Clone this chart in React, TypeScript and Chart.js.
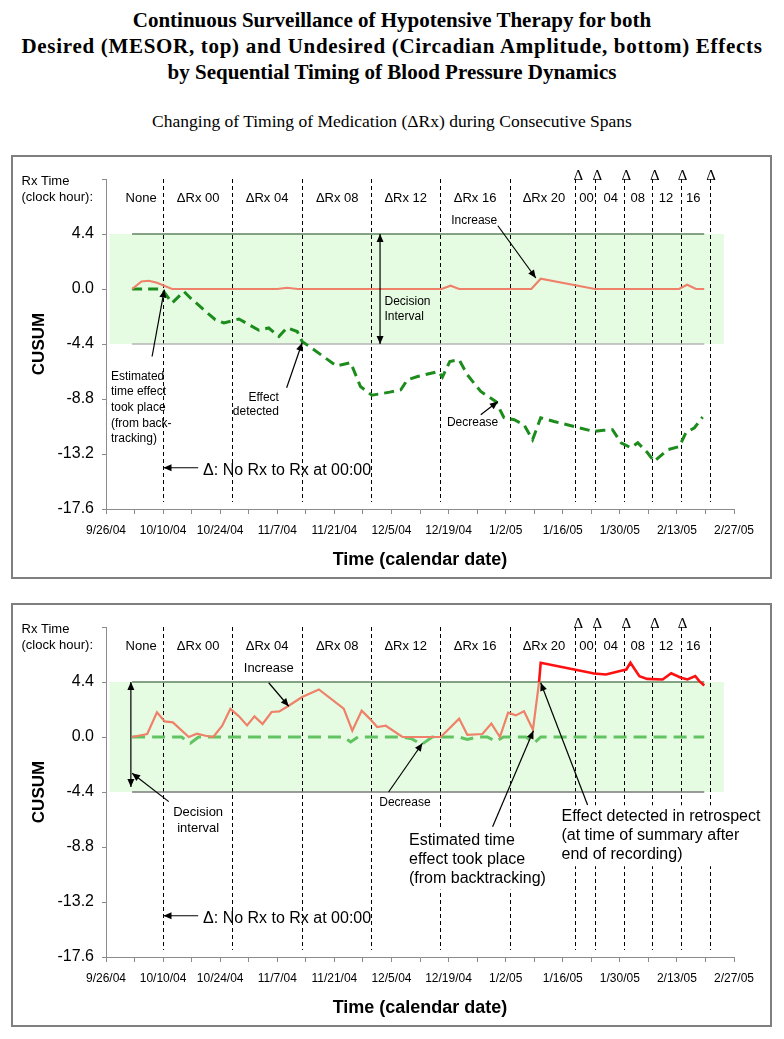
import React, { useEffect, useRef } from 'react';
import { Chart, registerables } from 'chart.js';
Chart.register(...registerables);

// ---------- axis / tick labels ----------
const xTickLabels = ['9/26/04', '10/10/04', '10/24/04', '11/7/04', '11/21/04', '12/5/04', '12/19/04', '1/2/05', '1/16/05', '1/30/05', '2/13/05', '2/27/05'];
const xLabelStepDays = 14;
const xMinorStepDays = 7;
const yTickValues = [-17.6, -13.2, -8.8, -4.4, 0, 4.4, 8.8];
const yMin = -17.6;
const yMax = 8.8;
const decisionLimit = 4.4;
const bandStartDay = 0.9;
const bandEndDay = 151.5;

// ---------- spans (days since 9/26/04) ----------
const spanBoundaryDays = [14, 31, 48, 65, 82, 99, 115, 120, 127, 134, 141, 148];
const spanLabels = ['None', 'ΔRx 00', 'ΔRx 04', 'ΔRx 08', 'ΔRx 12', 'ΔRx 16', 'ΔRx 20', '00', '04', '08', '12', '16'];
const spanLabelDays = [8.6, 22.6, 39.5, 56.7, 73.5, 90.5, 107.4, 117.8, 123.8, 130.4, 137.3, 144];
const topDeltaDays = [115.8, 120.5, 127.6, 134.6, 141.4, 148.4];
const bottomDeltaDays = [115.8, 120.5, 127.6, 134.6, 141.4];

// ---------- series: top chart (MESOR) ----------
const topIncreaseDays = [6.4, 8.7, 10.5, 12.5, 16.2, 42, 44.4, 47, 82.3, 84.5, 86.6, 104.3, 106.6, 119.9, 140.5, 142.5, 144.7, 146.7];
const topIncreaseValues = [0, 0.6, 0.66, 0.5, 0, 0, 0.1, 0, 0, 0.26, 0, 0, 0.82, 0, 0, 0.34, 0, 0];
const topDecreaseDays = [6.4, 13.7, 16.2, 19.1, 20.7, 26.8, 28.9, 32.6, 37.5, 39.9, 42.4, 44.4, 46.9, 48.1, 51, 56.5, 60, 62.4, 65.2, 69.6, 72.3, 73.9, 76.4, 81.5, 82.5, 84.3, 86.6, 88.6, 91.9, 95.6, 97.6, 100.1, 102.5, 104.6, 106.6, 109.9, 114.8, 119.7, 122, 124.2, 126.3, 128.7, 130.4, 132.8, 134.4, 137.7, 140.6, 142.2, 144.3, 146.3];
const topDecreaseValues = [0, 0, -1.12, -0.2, -0.72, -2.46, -2.72, -2.4, -3.3, -3.12, -3.8, -3.1, -3.4, -4.2, -4.86, -6.15, -5.9, -7.8, -8.5, -8.25, -8.06, -7.26, -7.0, -6.6, -7.04, -5.8, -5.66, -6.86, -8.2, -9.0, -10.3, -10.46, -10.86, -12.06, -10.3, -10.6, -11.0, -11.4, -11.3, -11.26, -12.3, -12.7, -12.3, -13.1, -13.8, -12.86, -12.6, -11.5, -11.1, -10.24];

// ---------- series: bottom chart (circadian amplitude) ----------
const botIncreaseDays = [6.4, 10.1, 12.5, 14.4, 16.4, 20.3, 22.3, 24.4, 26.3, 28.5, 30.5, 32.6, 34.6, 36.4, 38.4, 40.6, 42.5, 44.8, 48.1, 52.2, 58.3, 60.4, 62.7, 64.9, 66.5, 68.6, 72.7, 82.1, 86.6, 88.6, 92.3, 94.5, 96.6, 98.6, 100.5, 102.5, 104.7, 106.2];
const botIncreaseValues = [0, 0.24, 1.98, 1.25, 1.17, 0, 0.26, 0.1, 0, 0.9, 2.25, 1.65, 0.93, 1.65, 1.04, 2.0, 2.05, 2.5, 3.2, 3.8, 2.27, 0.5, 2.1, 1.39, 0.8, 0.9, 0, 0, 1.47, 0.18, 0.24, 1.07, 0, 1.95, 1.73, 2.06, 0.59, 4.4];
const botSignalDays = [106.2, 106.6, 119.7, 122.6, 126.3, 127.6, 128.6, 130.8, 132.7, 136.5, 138.6, 141, 142.6, 144.5, 145.5, 146.7];
const botSignalValues = [4.4, 5.94, 5.08, 5.0, 5.3, 5.4, 5.94, 4.87, 4.65, 4.6, 5.1, 4.74, 4.6, 4.87, 4.47, 4.12];
const botDecreaseDays = [6.4, 18.5, 20.7, 22.7, 58.3, 60, 61.8, 72.7, 75, 77.4, 80, 86.6, 88.6, 91, 93.5, 95.6, 97.5, 103, 105, 106.6, 146.7];
const botDecreaseValues = [0, 0, -0.5, 0, 0, -0.4, 0, 0, -0.15, -0.6, 0, 0, -0.2, 0, 0, -0.35, 0, 0, -0.48, 0, 0];

const limitDays = [6.4, 146.7];

const SANS = '"Liberation Sans", Arial, sans-serif';
const SERIF = '"Liberation Serif", "Times New Roman", serif';

type Note = { lines: string[]; x: number; y: number; align: CanvasTextAlign; size: number; gap?: number; bg?: boolean };
type Arrow = { from: [number, number]; to: [number, number]; double?: boolean };

const noRxNote: Note = { lines: ['Δ: No Rx to Rx at 00:00'], x: 23.8, y: -14.5, align: 'left', size: 16 };
const noRxArrow: Arrow = { from: [22.6, -14.3], to: [14.1, -14.3] };

const topNotes: Note[] = [
  { lines: ['Estimated', 'time effect', 'took place', '(from back-', 'tracking)'], x: 1.2, y: -7.0, align: 'left', size: 12, gap: 15.6 },
  { lines: ['Effect', 'detected'], x: 42.4, y: -8.67, align: 'right', size: 12, gap: 14.6 },
  { lines: ['Decision', 'Interval'], x: 68.3, y: -1.0, align: 'left', size: 12, gap: 15 },
  { lines: ['Increase'], x: 90.3, y: 5.46, align: 'center', size: 12 },
  { lines: ['Decrease'], x: 89.9, y: -10.7, align: 'center', size: 12 },
  noRxNote,
];
const topArrows: Arrow[] = [
  { from: [11.3, -5.4], to: [14.3, -0.05] },
  { from: [44.3, -7.9], to: [48.1, -4.3] },
  { from: [67.2, 4.4], to: [67.2, -4.4], double: true },
  { from: [96.1, 5.06], to: [105.4, 0.88] },
  { from: [91.9, -10.06], to: [96.1, -9.0] },
  noRxArrow,
];
const bottomNotes: Note[] = [
  { lines: ['Decision', 'interval'], x: 22.6, y: -6.0, align: 'center', size: 13, gap: 16 },
  { lines: ['Increase'], x: 39.9, y: 5.46, align: 'center', size: 13 },
  { lines: ['Decrease'], x: 73.3, y: -5.25, align: 'center', size: 12 },
  { lines: ['Estimated time', 'effect took place', '(from backtracking)'], x: 74.3, y: -8.25, align: 'left', size: 16, gap: 19, bg: true },
  { lines: ['Effect detected in retrospect', '(at time of summary after', 'end of recording)'], x: 111.7, y: -6.38, align: 'left', size: 16, gap: 19, bg: true },
  noRxNote,
];
const bottomArrows: Arrow[] = [
  { from: [6.1, 4.4], to: [6.1, -4.0], double: true },
  { from: [15.4, -5.17], to: [6.4, -2.9] },
  { from: [39.9, 4.34], to: [44.8, 2.46] },
  { from: [69.3, -4.4], to: [77.6, -0.5] },
  { from: [94.8, -7.18], to: [104.8, 0.5] },
  { from: [118.1, -5.44], to: [106.6, 4.34] },
  noRxArrow,
];

const toPts = (d: number[], v: number[]) => d.map((x, i) => ({ x, y: v[i] }));

function arrowHead(ctx: CanvasRenderingContext2D, x1: number, y1: number, x2: number, y2: number) {
  const a = Math.atan2(y2 - y1, x2 - x1);
  const len = 8, hw = 3.5;
  ctx.beginPath();
  ctx.moveTo(x2, y2);
  ctx.lineTo(x2 - len * Math.cos(a) + hw * Math.sin(a), y2 - len * Math.sin(a) - hw * Math.cos(a));
  ctx.lineTo(x2 - len * Math.cos(a) - hw * Math.sin(a), y2 - len * Math.sin(a) + hw * Math.cos(a));
  ctx.closePath();
  ctx.fill();
}

type PanelCfg = { notes: Note[]; arrows: Arrow[]; deltas: number[]; datasets: any[] };

function makePlugin(cfg: PanelCfg) {
  return {
    id: 'decor',
    beforeDatasetsDraw(chart: any) {
      const { ctx, chartArea, scales } = chart;
      const x = scales.x, y = scales.y;
      ctx.save();
      ctx.fillStyle = '#e5fce3';
      const bx0 = x.getPixelForValue(bandStartDay), bx1 = x.getPixelForValue(bandEndDay);
      const by0 = y.getPixelForValue(decisionLimit), by1 = y.getPixelForValue(-decisionLimit);
      ctx.fillRect(bx0, by0, bx1 - bx0, by1 - by0);
      ctx.strokeStyle = '#000';
      ctx.lineWidth = 1;
      ctx.setLineDash([4, 3]);
      for (const d of spanBoundaryDays) {
        const px = Math.round(x.getPixelForValue(d)) + 0.5;
        ctx.beginPath();
        ctx.moveTo(px, chartArea.top);
        ctx.lineTo(px, chartArea.bottom - 7);
        ctx.stroke();
      }
      ctx.restore();
    },
    afterDatasetsDraw(chart: any) {
      const { ctx, scales } = chart;
      const x = scales.x, y = scales.y;
      ctx.save();
      ctx.fillStyle = '#000';
      ctx.textBaseline = 'middle';
      ctx.textAlign = 'left';
      ctx.font = `13px ${SANS}`;
      ctx.fillText('Rx Time', 10.5, 26);
      ctx.fillText('(clock hour):', 10.5, 42);
      ctx.textAlign = 'center';
      spanLabels.forEach((s, i) => ctx.fillText(s, x.getPixelForValue(spanLabelDays[i]), 43.5));
      ctx.font = `15px ${SERIF}`;
      cfg.deltas.forEach((d) => ctx.fillText('Δ', x.getPixelForValue(d), 21));
      for (const n of cfg.notes) {
        ctx.font = `${n.size}px ${SANS}`;
        ctx.textAlign = n.align;
        ctx.textBaseline = 'middle';
        const gap = n.gap ?? n.size * 1.2;
        const px = x.getPixelForValue(n.x), py = y.getPixelForValue(n.y);
        if (n.bg) {
          const w = Math.max(...n.lines.map((l) => ctx.measureText(l).width));
          const left = n.align === 'left' ? px : n.align === 'center' ? px - w / 2 : px - w;
          ctx.fillStyle = '#fff';
          ctx.fillRect(left - 3, py - gap / 2 - 2, w + 6, gap * n.lines.length + 4);
        }
        ctx.fillStyle = '#000';
        n.lines.forEach((l, i) => ctx.fillText(l, px, py + i * gap));
      }
      ctx.strokeStyle = '#000';
      ctx.fillStyle = '#000';
      ctx.lineWidth = 1.2;
      for (const a of cfg.arrows) {
        const x1 = x.getPixelForValue(a.from[0]), y1 = y.getPixelForValue(a.from[1]);
        const x2 = x.getPixelForValue(a.to[0]), y2 = y.getPixelForValue(a.to[1]);
        ctx.beginPath();
        ctx.moveTo(x1, y1);
        ctx.lineTo(x2, y2);
        ctx.stroke();
        arrowHead(ctx, x1, y1, x2, y2);
        if (a.double) arrowHead(ctx, x2, y2, x1, y1);
      }
      ctx.restore();
    },
    afterDraw(chart: any) {
      const { ctx, width, height } = chart;
      ctx.save();
      ctx.strokeStyle = '#7f7f7f';
      ctx.lineWidth = 2;
      ctx.strokeRect(1, 1, width - 2, height - 2);
      ctx.restore();
    },
  };
}

const xTickValues: number[] = [];
for (let i = 0; i < xTickLabels.length; i++) {
  xTickValues.push(i * xLabelStepDays);
  if (i < xTickLabels.length - 1) xTickValues.push(i * xLabelStepDays + xMinorStepDays);
}

const W = 761, H = 424;

function CusumPanel({ top, cfg }: { top: number; cfg: PanelCfg }) {
  const ref = useRef<HTMLCanvasElement>(null);
  useEffect(() => {
    const axisColor = '#8c8c8c';
    const chart = new Chart(ref.current as HTMLCanvasElement, {
      type: 'line',
      data: { datasets: cfg.datasets },
      plugins: [makePlugin(cfg) as any],
      options: {
        animation: false,
        responsive: false,
        maintainAspectRatio: false,
        layout: { padding: { left: 0, right: 38, top: 24, bottom: 0 } },
        plugins: { legend: { display: false }, tooltip: { enabled: false } },
        elements: { point: { radius: 0 }, line: { tension: 0 } },
        scales: {
          x: {
            type: 'linear',
            min: 0,
            max: xTickValues[xTickValues.length - 1],
            afterBuildTicks: (s: any) => { s.ticks = xTickValues.map((v) => ({ value: v })); },
            afterFit: (s: any) => { s.height = 70; },
            ticks: {
              autoSkip: false,
              maxRotation: 0,
              minRotation: 0,
              color: '#000',
              padding: 9,
              font: { size: 12, family: SANS },
              callback: (v: any) => (Number(v) % xLabelStepDays === 0 ? xTickLabels[Number(v) / xLabelStepDays] : ''),
            },
            grid: { drawOnChartArea: false, drawTicks: true, tickLength: 5, color: axisColor },
            border: { display: true, color: axisColor, width: 1 },
            title: { display: true, text: 'Time (calendar date)', color: '#000', font: { size: 18, weight: 'bold', family: SANS }, padding: { top: 0, bottom: 8 } },
          },
          y: {
            type: 'linear',
            min: yMin,
            max: yMax,
            afterBuildTicks: (s: any) => { s.ticks = yTickValues.map((v) => ({ value: v })); },
            afterFit: (s: any) => { s.width = 95; },
            ticks: {
              color: '#000',
              padding: 8,
              font: { size: 16, family: SANS },
              callback: (v: any) => (Number(v) > yMax - 0.01 ? '' : Number(v).toFixed(1)),
            },
            grid: { drawOnChartArea: false, drawTicks: true, tickLength: 4, color: axisColor },
            border: { display: true, color: axisColor, width: 1 },
            title: { display: true, text: 'CUSUM', color: '#000', font: { size: 17, weight: 'bold', family: SANS }, padding: { top: 18, bottom: 0 } },
          },
        },
      } as any,
    });
    return () => chart.destroy();
  }, []);
  return <canvas ref={ref} width={W} height={H} style={{ position: 'absolute', left: 11, top, width: W, height: H }} />;
}

const salmon = '#ef8069';

const topCfg: PanelCfg = {
  notes: topNotes,
  arrows: topArrows,
  deltas: topDeltaDays,
  datasets: [
    { label: 'Increase', data: toPts(topIncreaseDays, topIncreaseValues), borderColor: salmon, borderWidth: 2.2 },
    { label: 'Decrease', data: toPts(topDecreaseDays, topDecreaseValues), borderColor: '#1c8c1c', borderWidth: 3, borderDash: [10, 6] },
    { label: 'Upper limit', data: toPts(limitDays, limitDays.map(() => decisionLimit)), borderColor: '#5e855e', borderWidth: 1.3 },
    { label: 'Lower limit', data: toPts(limitDays, limitDays.map(() => -decisionLimit)), borderColor: '#b4b4b4', borderWidth: 1.5 },
  ],
};

const bottomCfg: PanelCfg = {
  notes: bottomNotes,
  arrows: bottomArrows,
  deltas: bottomDeltaDays,
  datasets: [
    { label: 'Signal', data: toPts(botSignalDays, botSignalValues), borderColor: '#ff1010', borderWidth: 2.6 },
    { label: 'Increase', data: toPts(botIncreaseDays, botIncreaseValues), borderColor: salmon, borderWidth: 2.2 },
    { label: 'Decrease', data: toPts(botDecreaseDays, botDecreaseValues), borderColor: '#62c362', borderWidth: 3, borderDash: [13, 7] },
    { label: 'Upper limit', data: toPts(limitDays, limitDays.map(() => decisionLimit)), borderColor: '#5e855e', borderWidth: 1.3 },
    { label: 'Lower limit', data: toPts(limitDays, limitDays.map(() => -decisionLimit)), borderColor: '#7a7a7a', borderWidth: 1.3 },
  ],
};

export default function App() {
  return (
    <div style={{ position: 'absolute', left: 0, top: 0, width: 784, height: 1039, background: '#fff' }}>
      <div style={{ position: 'absolute', left: 0, top: 7, width: 784, textAlign: 'center', fontFamily: SERIF, fontWeight: 'bold', fontSize: 21, lineHeight: '26px', whiteSpace: 'nowrap' }}>
        <div>Continuous Surveillance of Hypotensive Therapy for both</div>
        <div style={{ letterSpacing: '0.7px' }}>Desired (MESOR, top) and Undesired (Circadian Amplitude, bottom) Effects</div>
        <div>by Sequential Timing of Blood Pressure Dynamics</div>
      </div>
      <div style={{ position: 'absolute', left: 0, top: 108, width: 784, textAlign: 'center', fontFamily: SERIF, fontSize: 17.5, lineHeight: '26px', whiteSpace: 'nowrap' }}>
        Changing of Timing of Medication (ΔRx) during Consecutive Spans
      </div>
      <CusumPanel top={155} cfg={topCfg} />
      <CusumPanel top={603} cfg={bottomCfg} />
    </div>
  );
}
